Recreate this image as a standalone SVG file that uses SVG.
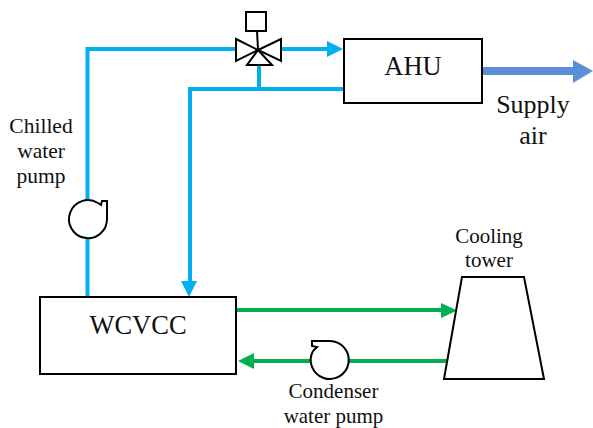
<svg xmlns="http://www.w3.org/2000/svg" width="593" height="428" viewBox="0 0 593 428">
<style>
text{font-family:"Liberation Serif","Times New Roman",serif;fill:#111;text-anchor:middle}
.s{font-size:21.500px}.c{font-size:21px}.m{font-size:26.500px}.l{font-size:26px}
.b{fill:none;stroke:#00b0f0;stroke-width:4}
.g{fill:none;stroke:#00b050;stroke-width:4}
.k{fill:#fff;stroke:#000;stroke-width:2}
.h{fill:none;stroke:#000;stroke-width:2}
</style>
<rect width="593" height="428" fill="#fff"/>
<g id="connectors">
<path class="b" d="M87.500 297V49H236"/>
<path class="b" d="M281 49H329"/>
<polygon fill="#00b0f0" points="327,41 343,49 327,57"/>
<path class="b" d="M343 89H190V283"/>
<path class="b" d="M259 66V89"/>
<polygon fill="#00b0f0" points="181,281 197,281 189,297"/>
<path class="g" d="M237 310H443"/>
<polygon fill="#00b050" points="441,303 457,310.500 441,318"/>
<path class="g" d="M449 361H252"/>
<polygon fill="#00b050" points="254,353 238,361 254,369"/>
<path fill="none" stroke="#5b8fd8" stroke-width="8" d="M483 71H574"/>
<polygon fill="#5b8fd8" points="573,60 593,71 573,83"/>
</g>
<g id="valve">
<rect class="k" x="246" y="12" width="20" height="19"/>
<path class="h" d="M257 31L258 49"/>
<polygon class="k" points="236,39 258,50 236,61"/>
<polygon class="k" points="281,39 258,50 281,61"/>
<polygon class="k" points="258,50 272,65 247,65"/>
</g>
<g id="ahu">
<rect class="k" x="344" y="39" width="138" height="64"/>
<text class="m" x="413" y="75">AHU</text>
</g>
<g id="chilled-pump">
<path class="k" d="M102 201H107V219A19 19 0 1 1 98 203L101 205Z"/>
<text class="s"><tspan x="41" y="133">Chilled</tspan><tspan x="41" y="158">water</tspan><tspan x="41" y="183">pump</tspan></text>
</g>
<g id="wcvcc">
<rect class="k" x="40" y="297" width="196" height="77"/>
<text class="m" x="138" y="334">WCVCC</text>
</g>
<g id="condenser-pump">
<path class="k" d="M312 341H330A19 19 0 1 1 313 351L317 347L312 346Z"/>
<text class="c"><tspan x="333.500" y="398">Condenser</tspan><tspan x="333.500" y="423">water pump</tspan></text>
</g>
<g id="cooling-tower">
<polygon class="k" points="462,277 524,277 544,379 444,379"/>
<text class="c"><tspan x="489" y="243">Cooling</tspan><tspan x="489" y="267">tower</tspan></text>
</g>
<g id="supply-air">
<text class="l"><tspan x="533" y="113">Supply</tspan><tspan x="533" y="144">air</tspan></text>
</g>
</svg>
